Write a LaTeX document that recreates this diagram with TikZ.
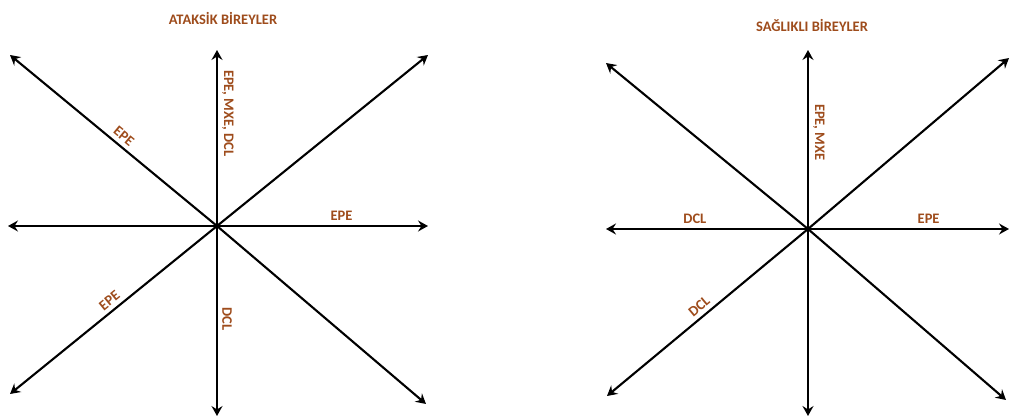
\documentclass[tikz,border=0pt]{standalone}
\usepackage{fontspec}
\setmainfont{Carlito}
\usetikzlibrary{arrows.meta}
\definecolor{labelbrown}{HTML}{9E4C1C}
\begin{document}
\begin{tikzpicture} [
        x=1pt, y=-1pt,
        axis/.style = {draw, line width=2.1pt, -{Stealth[length=10pt,width=11pt,inset=3.5pt]}},
        tag/.style = {text=labelbrown, font=\bfseries\fontsize{14.5}{14.5}\selectfont, inner sep=5pt},
        title/.style = {tag, inner sep=2pt},
    ]
    \useasboundingbox (0,0) rectangle (1010,419);
    % centres of the two stars
    \coordinate (cl) at (217,226);
    \coordinate (cr) at (808,229);
    % arrow ends of both stars
    \foreach \name/\x/\y in {
            ln/217/50, ls/217/416, lw/8/226, le/428/226,
            lnw/10/55, lne/428/55, lsw/10/394, lse/426/404,
            rn/808/50, rs/808/416, rw/606/229, re/1009/229,
            rnw/606/63, rne/1009/58, rsw/607/396, rse/1006/400}
        \coordinate (\name) at (\x,\y);
    % the arrows
    \foreach \tip in {ln,ls,lw,le,lnw,lne,lsw,lse} {
        \draw[axis] (cl) -- (\tip);
    }
    \foreach \tip in {rn,rs,rw,re,rnw,rne,rsw,rse} {
        \draw[axis] (cr) -- (\tip);
    }
    % titles
    \node[title] (ltitle) at (223,18) {ATAKSİK BİREYLER};
    \node[title] (rtitle) at (812,25) {SAĞLIKLI BİREYLER};
    % labels on the left star
    \path (cl) -- node[tag, rotate=-90, anchor=south, pos=.64] {EPE, MXE, DCL} (ln);
    \path (cl) -- node[tag, rotate=-90, anchor=south, pos=.49] {DCL} (ls);
    \path (cl) -- node[tag, above, pos=.59] {EPE} (le);
    \path (cl) -- node[tag, sloped, above, pos=.48] {EPE} (lnw);
    \path (cl) -- node[tag, sloped, above, pos=.49] {EPE} (lsw);
    % labels on the right star
    \path (cr) -- node[tag, rotate=-90, anchor=south, pos=.54] {EPE, MXE} (rn);
    \path (cr) -- node[tag, above, pos=.56] {DCL} (rw);
    \path (cr) -- node[tag, above, pos=.60] {EPE} (re);
    \path (cr) -- node[tag, sloped, above, pos=.51] {DCL} (rsw);
\end{tikzpicture}
\end{document}
